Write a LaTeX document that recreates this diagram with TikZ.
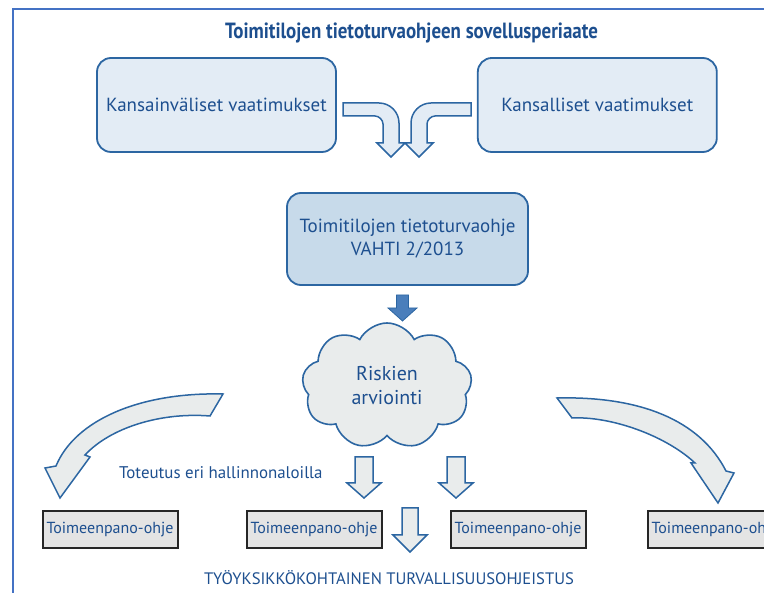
\documentclass[tikz,border=0pt]{standalone}
\usepackage{fontspec}
\setmainfont{PT Sans}
\newfontfamily\titlefont{PT Sans}[FakeStretch=0.86]
\usetikzlibrary{positioning}
\usetikzlibrary{shapes.symbols}
\definecolor{frameBlue}{HTML}{4472C4}
\definecolor{lineBlue}{HTML}{2C66A2}
\definecolor{textBlue}{HTML}{1D4F8F}
\definecolor{paleBlue}{HTML}{E3ECF5}
\definecolor{midBlue}{HTML}{C7DAEA}
\definecolor{solidBlue}{HTML}{4A7EBB}
\definecolor{paleGray}{HTML}{E9ECEC}
\definecolor{boxGray}{HTML}{E4E4E4}
\tikzset{
   frameLine/.style={draw=frameBlue, line width=1.3pt},
   reqBox/.style={draw=lineBlue, fill=paleBlue, line width=1.8pt, rounded corners=14pt, minimum width=239pt, minimum height=94pt, text=textBlue, font=\fontsize{19}{23}\selectfont},
   guideBox/.style={reqBox, fill=midBlue, minimum width=241pt, minimum height=92pt, align=center},
   riskCloud/.style={cloud, draw=lineBlue, fill=paleGray, line width=1.6pt, cloud puffs=9, cloud puff arc=125, minimum width=170pt, minimum height=126pt, text=textBlue, align=center, font=\fontsize{20}{24}\selectfont},
   planBox/.style={draw=black!85, fill=boxGray, line width=2pt, minimum width=135pt, minimum height=37pt, inner sep=0pt, text=textBlue, font=\fontsize{16}{20}\selectfont},
   noteText/.style={text=textBlue, inner sep=0pt},
   bentArrow/.style={draw=lineBlue, fill=paleBlue, line width=1.5pt, line join=miter},
   bigArrow/.style={draw=lineBlue, fill=paleGray, line width=1.5pt, line join=miter},
   smallArrow/.style={draw=lineBlue, fill=paleGray, line width=1.5pt, line join=miter},
   solidArrow/.style={draw=lineBlue, fill=solidBlue, line width=0.8pt, line join=miter},
}
% style, centre x, top y, tip y, half shaft, half head, head length
\newcommand{\downblock}[7]{%
   \draw[#1] (#2-#5,#3) -- (#2+#5,#3) -- (#2+#5,#4-#7) -- (#2+#6,#4-#7) -- (#2,#4)
      -- (#2-#6,#4-#7) -- (#2-#5,#4-#7) -- cycle;
}
\begin{document}
\begin{tikzpicture}[x=1pt, y=-1pt]
   \useasboundingbox (0,0) rectangle (764,593);
   \clip (0,0) rectangle (764,593);
   \draw[frameLine] (13,700) -- (13,9) -- (800,9);
   %
   \node[noteText, font=\titlefont\fontsize{22}{26}\selectfont\bfseries] (title) at (411.5,33) {Toimitilojen tietoturvaohjeen sovellusperiaate};
   %
   \node[reqBox] (intl) at (216.5,105) {Kansainväliset vaatimukset};
   \node[reqBox, right=140pt of intl] (natl) {Kansalliset vaatimukset};
   \node[guideBox] (vahti) at (407.5,239) {Toimitilojen tietoturvaohje\\VAHTI 2/2013};
   \node[riskCloud] (risk) at (387,386) {Riskien\\arviointi};
   %
   \node[planBox] (planA) at (110,529.5) {Toimeenpano-ohje};
   \node[planBox, right=67pt of planA] (planB) {Toimeenpano-ohje};
   \node[planBox, right=67pt of planB] (planC) {Toimeenpano-ohje};
   \node[planBox, right=60pt of planC] (planD) {Toimeenpano-ohje};
   %
   \node[noteText, font=\fontsize{16.9}{20}\selectfont, anchor=west] (sectors) at (119,473) {Toteutus eri hallinnonaloilla};
   \node[noteText, font=\fontsize{16.6}{20}\selectfont] (units) at (389,578) {TYÖYKSIKKÖKOHTAINEN TURVALLISUUSOHJEISTUS};
   %
   % the two requirement arrows meeting above the guide box
   \draw[bentArrow] (343,103) -- (379,103) .. controls (390,103) and (399,112) .. (399,123)
      -- (399,143) -- (405,143) -- (391,157) -- (377,143) -- (383,143) -- (383,124)
      .. controls (383,120) and (379,116) .. (375,116) -- (343,116) -- cycle;
   \draw[bentArrow] (471,103) -- (431,103) .. controls (420,103) and (411,112) .. (411,123)
      -- (411,143) -- (405,143) -- (419,157) -- (433,143) -- (427,143) -- (427,124)
      .. controls (427,120) and (431,116) .. (435,116) -- (471,116) -- cycle;
   %
   \downblock{solidArrow}{402.5}{295}{321}{6}{14.5}{13}
   %
   % the wide curved arrows to the outer plans
   \draw[bigArrow] (223,394) -- (210,416) .. controls (160,412) and (110,428) .. (85,455)
      -- (90,457) -- (60,498) -- (45,468) -- (56,466)
      .. controls (75,420) and (140,392) .. (223,394) -- cycle;
   \draw[bigArrow] (557,398) -- (572,418) .. controls (610,416) and (665,435) .. (695,463)
      -- (691,463) -- (718,503) -- (734,473) -- (726,471)
      .. controls (700,420) and (640,396) .. (557,398) -- cycle;
   %
   \downblock{smallArrow}{364}{457}{498}{9}{17}{15}
   \downblock{smallArrow}{456}{457}{498}{9}{17}{15}
   \downblock{smallArrow}{410}{508}{552}{8}{17}{17}
\end{tikzpicture}
\end{document}
